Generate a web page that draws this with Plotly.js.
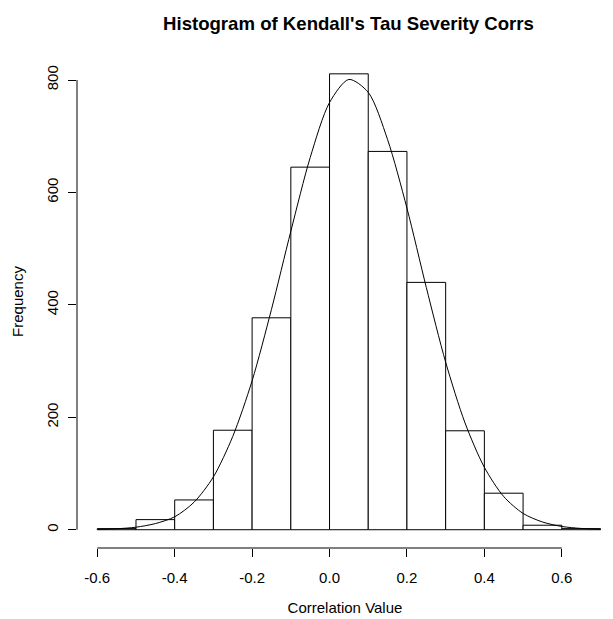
<!DOCTYPE html>
<html>
<head>
<meta charset="utf-8">
<script src="https://cdn.plot.ly/plotly-3.0.1.min.js"></script>
<style>html,body{margin:0;padding:0;background:#fff;}#chart{width:613px;height:619px;}</style>
</head>
<body>
<div id="chart"></div>
<script>
// Histogram bins (left edges) and counts
var binStarts = [-0.6, -0.5, -0.4, -0.3, -0.2, -0.1, 0.0, 0.1, 0.2, 0.3, 0.4, 0.5, 0.6];
var binWidth = 0.1;
var counts = [2, 18, 53, 177, 377, 645, 811, 673, 440, 176, 65, 8, 2];

// Overlaid density curve
var curveX = [-0.6, -0.55, -0.5, -0.45, -0.4, -0.35, -0.3, -0.25, -0.2, -0.15, -0.1, -0.05, 0.0,
              0.05, 0.1, 0.15, 0.2, 0.25, 0.3, 0.35, 0.4, 0.45, 0.5, 0.55, 0.6, 0.65, 0.7];
var curveY = [0.6, 1.7, 4.5, 10.9, 23, 49, 94, 166, 265, 392, 531, 662, 760,
              801, 778, 694, 572, 431, 298, 190, 111, 59, 29, 13.8, 5.8, 2.3, 0.8];

// Axis ticks
var xTicks = [-0.6, -0.4, -0.2, 0.0, 0.2, 0.4, 0.6];
var xTickText = ["-0.6", "-0.4", "-0.2", "0.0", "0.2", "0.4", "0.6"];
var yTicks = [0, 200, 400, 600, 800];
var yTickText = ["0", "200", "400", "600", "800"];

var FONT = "Liberation Sans, Arial, sans-serif";

var traces = [
  {
    type: "bar",
    x: binStarts,
    y: counts,
    offset: 0,
    width: binStarts.map(function () { return binWidth; }),
    marker: { color: "#ffffff", line: { color: "#000000", width: 1 } },
    hoverinfo: "skip"
  },
  {
    type: "scatter",
    mode: "lines",
    x: curveX,
    y: curveY,
    line: { color: "#000000", width: 1, shape: "spline", smoothing: 0.8 },
    hoverinfo: "skip"
  }
];

var layout = {
  width: 613,
  height: 619,
  margin: { l: 77, r: 0, t: 55, b: 71, pad: 0 },
  paper_bgcolor: "#ffffff",
  plot_bgcolor: "#ffffff",
  showlegend: false,
  bargap: 0,
  font: { family: FONT, size: 15, color: "#000000" },
  title: {
    text: "Histogram of Kendall's Tau Severity Corrs",
    font: { family: FONT, size: 18.6, weight: "bold", color: "#000000" },
    xref: "container", x: 0.5685, xanchor: "center",
    yref: "container", y: 0.962, yanchor: "middle"
  },
  xaxis: {
    range: [-0.6524, 0.7323],
    showgrid: false, zeroline: false, showline: false,
    tickmode: "array", tickvals: xTicks, ticktext: xTickText,
    ticks: "outside", ticklen: 8, tickwidth: 1, tickcolor: "#000000",
    ticklabelstandoff: 8,
    tickfont: { family: FONT, size: 15, color: "#000000" },
    title: { text: "Correlation Value", font: { family: FONT, size: 15, color: "#000000" }, standoff: 17 },
    fixedrange: true
  },
  yaxis: {
    range: [-32.5, 844.5],
    showgrid: false, zeroline: false, showline: false,
    tickmode: "array", tickvals: yTicks, ticktext: yTickText,
    ticks: "outside", ticklen: 8, tickwidth: 1, tickcolor: "#000000",
    tickangle: -90,
    ticklabelstandoff: 4,
    tickfont: { family: FONT, size: 15, color: "#000000" },
    title: { text: "Frequency", font: { family: FONT, size: 15, color: "#000000" }, standoff: 16 },
    fixedrange: true
  },
  shapes: [
    { type: "line", xref: "x", yref: "paper",
      x0: xTicks[0], x1: xTicks[xTicks.length - 1], y0: 0, y1: 0,
      line: { color: "#000000", width: 1 } },
    { type: "line", xref: "paper", yref: "y",
      x0: 0, x1: 0, y0: yTicks[0], y1: yTicks[yTicks.length - 1],
      line: { color: "#000000", width: 1 } }
  ]
};

Plotly.newPlot("chart", traces, layout, { staticPlot: true, displayModeBar: false });
</script>
</body>
</html>
